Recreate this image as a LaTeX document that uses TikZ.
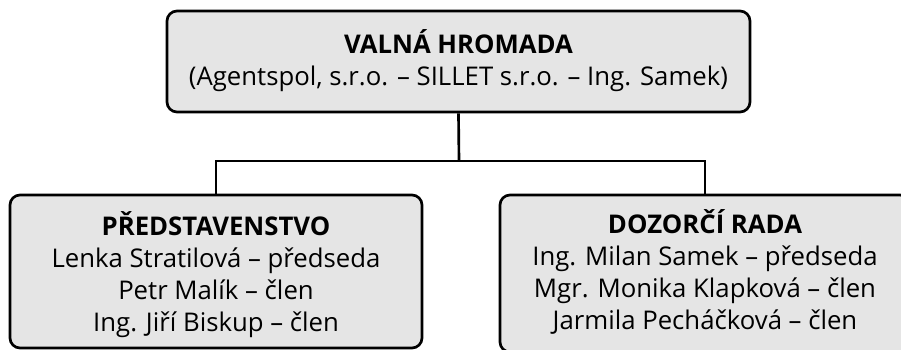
\documentclass[tikz,border=0pt]{standalone}
\usepackage{fontspec}
\setmainfont{Open Sans}
\begin{document}
\begin{tikzpicture}[x=0.75pt,y=-0.75pt,
  box/.style={draw=black, line width=2pt, fill=gray!20, rounded corners=7.5pt,
    align=center, font=\fontsize{19.3}{24}\selectfont, inner sep=0pt},
  link/.style={line width=2pt}]
\useasboundingbox (0,0) rectangle (901,350);
\clip (0,0) rectangle (901,350);
% BOXES
\node[box, minimum width=437.25pt, minimum height=75.75pt] at (458.5,61.5) (valna)
  {\rule{0pt}{19pt}\textbf{VALNÁ HROMADA}\\(Agentspol, s.r.o. – SILLET s.r.o. – Ing. Samek)\rule[-7.75pt]{0pt}{7.75pt}};
\node[box, minimum width=309pt, minimum height=114.75pt] at (216,271.5) (predstavenstvo)
  {\rule{0pt}{22.25pt}\textbf{PŘEDSTAVENSTVO}\\Lenka Stratilová – předseda\\Petr Malík – člen\\Ing. Jiří Biskup – člen\rule[-5pt]{0pt}{5pt}};
\node[box, minimum width=307.5pt, minimum height=117.75pt] at (705,273.5) (dozor)
  {\rule{0pt}{22.25pt}\textbf{DOZORČÍ RADA}\\Ing. Milan Samek – předseda\\Mgr. Monika Klapková – člen\\Jarmila Pecháčková – člen\rule[-11pt]{0pt}{11pt}};
% LINKS
\coordinate (fork) at (459,161);
\draw[link] (valna.south) -- (fork);
\draw[link] (predstavenstvo.north) |- (fork) -| (dozor.north);
\end{tikzpicture}
\end{document}
